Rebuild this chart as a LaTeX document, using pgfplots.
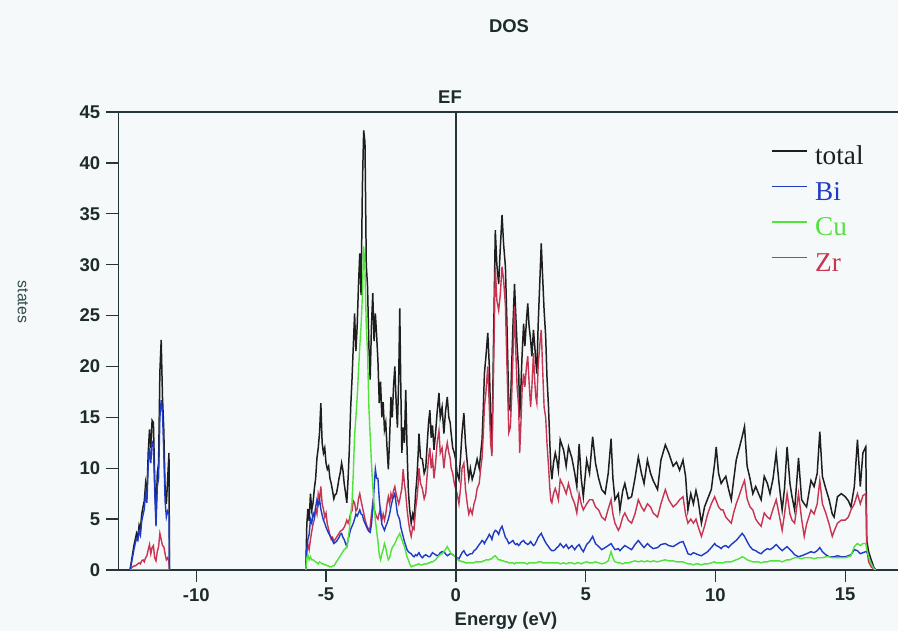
\documentclass[border=0pt]{standalone}
\usepackage{pgfplots}
\pgfplotsset{compat=1.18}
\usepackage{pgfplotstable}
\usepackage{fontspec}
\setmainfont{Liberation Sans}
\newfontfamily\legfont{Liberation Serif}
\definecolor{bg}{HTML}{F6F9F9}
\definecolor{axc}{HTML}{25353A}
\definecolor{tkc}{HTML}{1E2B2B}
\definecolor{lbc}{HTML}{2E4A4A}
\definecolor{ctot}{HTML}{1E1E1E}
\definecolor{cbi}{HTML}{1F3BC4}
\definecolor{ccu}{HTML}{52E33A}
\definecolor{czr}{HTML}{C73553}

\pgfplotstableread{
E T B C Z
-12.55 0 0 0 0
-12.50 0.8 0.6 0.0 0.2
-12.45 1.6 1.3 0.0 0.3
-12.40 2.4 2.0 0.0 0.4
-12.35 3.0 2.6 0.0 0.4
-12.30 3.6 3.1 0.0 0.5
-12.25 3.2 2.9 0.0 0.6
-12.20 4.4 3.8 0.0 0.7
-12.15 4.0 3.4 0.0 0.6
-12.10 5.5 4.8 0.0 0.9
-12.05 6.2 5.4 0.0 1.0
-12.00 6.8 6.0 0.0 0.8
-11.95 8.5 7.6 0.0 1.2
-11.90 7.5 6.6 0.0 1.4
-11.85 11.5 10.2 0.0 2.0
-11.80 13.8 12.0 0.0 2.5
-11.75 12.0 10.5 0.0 1.6
-11.70 14.7 12.6 0.0 2.2
-11.65 14.5 12.3 0.0 2.4
-11.60 9.0 7.8 0.0 1.2
-11.55 5.2 4.3 0.0 0.9
-11.50 9.5 8.2 0.0 1.8
-11.45 10.5 9.0 0.0 2.3
-11.40 19.5 15.0 0.0 3.6
-11.35 22.6 16.7 0.0 3.0
-11.30 17.0 15.5 0.0 2.4
-11.25 13.8 11.5 0.0 2.3
-11.20 8.0 6.8 0.0 1.6
-11.15 6.5 5.2 0.0 1.0
-11.10 9.0 5.8 0.0 1.2
-11.05 11.5 5.5 0.0 0.8
-11.03 0 0 0 0
-8.0 nan nan nan nan
-5.78 0 0 0 0
-5.74 4.5 2.0 1.2 1.8
-5.70 6.0 3.0 1.5 2.5
-5.65 4.8 3.5 1.0 2.0
-5.60 7.5 5.0 1.3 3.0
-5.55 5.9 4.6 1.0 3.8
-5.50 6.6 5.6 1.0 4.5
-5.45 8.0 5.2 0.9 5.0
-5.40 9.0 6.2 0.8 6.0
-5.35 11.0 6.9 0.7 5.5
-5.30 12.0 6.4 0.6 7.5
-5.25 13.5 6.9 0.8 7.0
-5.20 16.4 6.0 0.7 8.2
-5.15 12.5 5.4 0.6 6.5
-5.10 11.5 4.9 0.6 6.0
-5.05 12.0 4.6 0.5 5.2
-5.00 10.5 4.2 0.5 5.6
-4.95 9.9 3.9 0.4 4.5
-4.90 10.2 3.6 0.4 4.0
-4.85 9.0 3.4 0.3 3.4
-4.80 8.5 3.2 0.3 3.0
-4.75 7.8 2.9 0.4 3.2
-4.70 7.0 2.6 0.4 2.8
-4.65 7.4 2.7 0.6 3.0
-4.60 7.5 2.8 0.8 3.2
-4.55 8.2 3.0 1.0 3.4
-4.50 9.0 3.2 1.2 3.6
-4.45 9.6 3.5 1.4 3.8
-4.40 10.5 3.6 1.6 3.9
-4.35 9.8 3.2 1.8 4.0
-4.30 8.5 3.0 2.0 4.2
-4.25 7.6 2.6 2.1 4.5
-4.20 6.6 2.3 2.3 4.9
-4.15 9.0 3.0 3.0 4.6
-4.10 12.0 3.5 4.0 5.0
-4.05 16.0 4.0 5.5 5.6
-4.00 18.7 4.3 6.6 5.8
-3.95 22.0 4.6 9.5 6.8
-3.90 25.2 5.0 13.2 6.6
-3.85 21.5 5.5 15.0 5.8
-3.80 24.0 5.3 17.0 6.0
-3.75 28.0 5.6 19.5 7.0
-3.70 31.1 5.9 22.0 7.5
-3.65 27.0 5.5 24.0 6.8
-3.60 37.7 5.4 27.0 6.2
-3.55 43.2 4.9 31.8 5.6
-3.50 42.0 4.6 29.5 5.0
-3.45 30.0 4.3 24.0 4.5
-3.40 27.8 4.0 21.3 4.2
-3.35 22.0 3.8 16.0 3.9
-3.30 18.7 3.7 13.2 4.2
-3.25 24.0 4.5 10.5 5.5
-3.20 27.2 6.0 8.2 6.6
-3.15 22.5 8.0 6.5 6.0
-3.10 25.2 9.9 4.9 5.6
-3.05 23.0 9.0 3.8 5.2
-3.00 20.5 9.0 2.8 5.0
-2.95 16.4 7.0 1.5 5.6
-2.90 18.5 5.6 1.0 6.0
-2.85 15.0 4.5 1.6 4.9
-2.80 16.5 4.2 2.0 5.5
-2.75 13.8 3.9 2.6 4.9
-2.70 14.5 4.3 2.2 5.5
-2.65 12.0 4.6 1.5 6.5
-2.60 9.9 5.0 1.0 7.2
-2.55 13.0 5.5 1.2 6.5
-2.50 17.0 6.2 1.8 7.5
-2.45 15.0 6.8 2.2 7.0
-2.40 18.0 7.2 2.4 7.8
-2.35 20.0 7.5 2.6 8.2
-2.30 16.5 6.5 2.9 7.5
-2.25 14.0 5.5 3.2 7.0
-2.20 19.0 5.2 3.4 6.5
-2.16 25.7 4.9 3.6 6.9
-2.12 18.0 4.2 3.3 7.5
-2.08 11.5 3.8 3.0 8.0
-2.03 14.0 3.3 2.6 9.9
-1.98 12.5 2.8 2.3 8.5
-1.93 17.7 2.4 1.8 7.5
-1.88 12.0 2.0 1.3 6.0
-1.83 7.8 1.8 1.0 4.9
-1.78 6.0 1.7 0.6 4.0
-1.72 4.6 1.6 0.3 3.3
-1.66 5.5 1.4 0.4 4.2
-1.61 4.9 1.3 0.4 4.0
-1.55 7.5 1.5 0.5 6.0
-1.50 9.0 1.4 0.5 7.0
-1.45 11.5 1.6 0.6 8.5
-1.42 13.4 1.7 0.6 10.0
-1.36 11.0 1.4 0.5 8.5
-1.29 10.9 1.2 0.5 8.0
-1.22 9.5 1.4 0.6 7.0
-1.16 10.0 1.5 0.6 7.5
-1.10 12.5 1.4 0.6 9.5
-1.05 14.5 1.3 0.7 11.0
-1.00 15.7 1.3 0.7 12.0
-0.95 13.0 1.5 0.8 10.0
-0.90 14.2 1.7 0.8 11.0
-0.84 11.8 1.6 0.9 9.0
-0.78 13.5 1.5 1.0 10.5
-0.72 15.5 1.4 1.2 12.5
-0.65 17.4 1.5 1.4 13.7
-0.60 15.0 1.7 1.5 11.5
-0.53 16.0 1.8 1.6 12.0
-0.46 13.4 1.8 1.8 10.0
-0.40 15.5 1.6 2.0 11.5
-0.33 17.0 1.4 2.3 12.5
-0.27 15.0 1.5 2.0 11.5
-0.22 14.5 1.6 1.8 11.0
-0.18 13.4 1.6 1.6 10.0
-0.12 12.0 1.5 1.5 9.5
-0.06 11.5 1.4 1.4 8.5
-0.01 10.9 1.3 1.3 8.0
0.05 9.5 1.2 1.1 7.5
0.12 8.9 1.1 0.9 6.5
0.18 11.0 1.4 0.9 8.0
0.24 13.5 1.7 0.8 10.0
0.31 15.4 1.9 0.8 10.5
0.37 12.5 1.6 0.7 8.0
0.44 10.5 1.4 0.7 6.5
0.50 9.0 1.5 0.7 5.5
0.56 10.0 1.6 0.7 6.0
0.63 8.9 1.6 0.7 5.5
0.70 9.5 1.9 0.7 6.5
0.76 10.2 2.0 0.8 7.0
0.82 10.9 2.2 0.8 8.0
0.90 10.0 2.5 0.8 8.5
0.96 11.5 2.7 0.8 10.0
1.01 12.8 2.9 0.8 11.0
1.06 16.0 2.8 0.9 13.5
1.10 19.3 2.6 0.9 16.0
1.16 21.0 2.9 1.0 17.5
1.23 23.3 3.2 1.0 20.0
1.29 20.0 3.5 1.0 16.0
1.34 15.0 3.3 1.1 12.5
1.39 11.5 3.0 1.1 11.2
1.45 22.0 3.6 1.3 19.0
1.52 33.4 3.9 1.4 29.8
1.58 30.0 3.8 1.2 26.5
1.65 28.1 3.5 1.0 25.5
1.71 31.5 4.0 1.0 27.0
1.78 34.9 4.3 0.9 29.8
1.84 32.0 3.8 0.9 28.5
1.91 29.8 3.2 0.8 26.0
1.97 24.0 3.0 0.8 20.0
2.04 16.0 2.6 0.7 13.5
2.10 15.7 2.7 0.7 14.0
2.15 20.0 2.8 0.7 17.0
2.20 24.0 2.9 0.7 21.0
2.26 28.1 2.6 0.6 25.9
2.31 25.0 2.5 0.7 21.5
2.36 22.0 2.6 0.7 18.0
2.42 19.6 2.4 0.7 16.0
2.46 15.0 2.5 0.7 11.5
2.50 17.5 2.7 0.7 14.0
2.55 21.0 2.8 0.7 17.5
2.61 24.2 2.9 0.7 19.3
2.66 22.0 2.7 0.7 18.0
2.72 24.5 2.6 0.6 20.0
2.77 26.2 2.5 0.6 21.0
2.82 24.0 2.6 0.7 18.5
2.88 22.6 2.8 0.7 16.0
2.93 21.0 2.6 0.7 18.0
2.99 23.6 2.4 0.7 21.3
3.04 22.0 2.5 0.7 18.5
3.08 20.5 2.7 0.7 17.0
3.12 19.3 2.9 0.7 16.4
3.17 24.0 3.2 0.8 20.0
3.23 28.0 3.4 0.8 22.0
3.29 32.1 3.6 0.8 23.6
3.34 29.0 3.3 0.7 20.0
3.40 25.5 3.0 0.7 16.0
3.46 23.0 2.7 0.7 15.0
3.51 19.0 2.5 0.7 12.5
3.57 16.0 2.3 0.7 10.2
3.62 12.5 2.1 0.7 8.0
3.66 10.0 2.0 0.7 6.8
3.70 8.9 1.9 0.7 6.6
3.76 10.5 1.9 0.7 7.5
3.83 11.5 2.0 0.7 8.0
3.89 10.8 2.2 0.7 7.5
3.95 9.8 2.3 0.7 6.9
4.02 12.8 2.6 0.6 8.9
4.15 11.8 2.2 0.7 8.2
4.25 10.2 2.5 0.6 7.5
4.34 12.1 2.1 0.7 8.5
4.47 11.0 2.4 0.7 7.2
4.58 9.5 2.0 0.6 6.5
4.66 8.2 2.3 0.7 5.6
4.75 12.4 2.5 0.7 7.5
4.83 9.0 2.1 0.6 6.5
4.91 7.2 1.8 0.7 5.9
5.04 10.8 2.5 0.8 6.5
5.15 9.5 2.8 0.7 6.9
5.27 13.1 3.3 0.7 6.9
5.38 10.5 2.6 0.8 6.2
5.50 9.0 2.3 0.7 5.9
5.62 7.9 2.0 0.6 5.2
5.75 7.5 2.2 0.7 4.9
5.87 9.5 2.4 0.9 6.0
5.98 12.9 2.6 1.8 6.9
6.05 9.0 2.3 1.2 5.5
6.13 6.9 2.0 0.8 4.6
6.26 7.5 2.1 0.7 3.9
6.32 5.9 1.9 0.7 4.2
6.43 7.8 2.2 0.6 5.2
6.51 8.5 2.4 0.7 5.6
6.64 7.0 2.2 0.7 4.9
6.77 7.2 2.0 0.8 4.6
6.90 9.0 2.5 0.9 5.5
7.03 11.1 2.9 0.8 6.9
7.15 9.5 2.5 0.9 6.2
7.25 8.5 2.2 0.8 5.8
7.38 10.8 2.6 0.9 6.5
7.50 9.5 2.3 0.8 6.2
7.60 8.8 2.1 0.9 5.6
7.77 7.9 2.2 0.8 5.2
7.90 10.8 2.5 0.9 6.5
8.07 12.3 2.6 1.0 7.9
8.20 11.5 2.4 0.9 6.9
8.37 10.2 2.3 0.9 6.2
8.50 10.6 2.5 0.8 6.5
8.62 9.8 2.7 0.8 6.9
8.75 10.8 2.8 0.8 7.2
8.85 9.2 2.2 0.7 5.5
8.94 5.9 1.6 0.6 4.6
9.05 7.5 1.5 0.6 5.0
9.15 6.5 1.7 0.5 4.6
9.25 7.8 1.6 0.6 5.0
9.33 6.9 1.5 0.6 4.3
9.46 4.6 1.4 0.5 3.3
9.58 6.2 1.6 0.6 4.3
9.70 7.0 1.8 0.6 5.5
9.84 7.9 2.2 0.7 6.5
9.97 10.5 2.6 0.8 7.2
10.03 12.1 2.4 0.7 6.8
10.12 9.5 2.3 0.7 6.2
10.22 8.5 2.1 0.7 5.9
10.29 8.8 2.3 0.7 5.9
10.40 9.2 2.4 0.8 5.2
10.50 8.0 2.2 0.8 4.9
10.61 6.9 2.5 0.8 4.6
10.70 8.8 2.7 0.9 5.6
10.80 10.8 2.9 1.0 6.5
10.90 11.8 3.2 1.1 7.2
11.03 13.1 3.6 1.3 8.2
11.12 14.1 3.3 1.2 8.8
11.22 10.2 2.8 1.0 7.0
11.33 9.0 2.3 0.9 6.2
11.44 7.5 2.0 0.8 5.9
11.55 8.2 1.9 0.8 5.0
11.66 7.5 1.7 0.8 4.6
11.76 6.9 1.6 0.7 4.3
11.88 9.2 1.9 0.8 5.6
12.00 8.5 2.1 0.8 5.2
12.10 7.5 2.0 0.9 5.0
12.22 9.0 2.2 0.9 6.0
12.34 11.5 2.5 0.9 6.9
12.45 8.5 2.2 0.9 5.5
12.57 5.9 1.9 0.8 3.9
12.66 8.0 2.1 0.9 5.5
12.76 12.1 2.3 1.0 7.5
12.87 8.5 2.0 1.0 5.5
12.95 7.2 1.8 1.1 4.9
13.05 5.9 1.5 1.2 4.6
13.20 11.0 1.3 1.2 7.5
13.32 6.9 1.4 1.1 5.0
13.42 6.5 1.5 1.2 3.3
13.51 6.2 1.6 1.2 4.5
13.68 8.8 1.8 1.2 5.9
13.80 8.2 1.7 1.1 5.5
13.92 9.5 1.9 1.2 6.5
14.02 13.6 2.2 1.2 8.8
14.12 9.2 1.8 1.2 6.5
14.25 8.0 1.5 1.3 5.6
14.38 6.9 1.3 1.3 4.5
14.50 5.5 1.3 1.2 3.3
14.57 5.2 1.3 1.2 3.8
14.70 7.2 1.4 1.2 4.6
14.85 7.5 1.3 1.2 4.9
15.00 7.2 1.3 1.2 4.9
15.12 6.8 1.4 1.3 5.2
15.22 6.2 1.5 1.4 5.9
15.35 8.2 2.0 2.3 6.5
15.47 12.8 1.9 2.6 7.5
15.58 8.2 1.6 2.4 6.5
15.68 11.5 1.7 2.6 7.3
15.79 12.1 1.8 2.6 7.5
15.83 2.9 1.8 2.0 2.3
15.90 1.8 1.2 1.3 0.8
16.00 1.0 0.7 0.6 0.3
16.11 0.2 0.1 0.1 0.1
16.18 0 0 0 0
}\dostab

\begin{document}
\begin{tikzpicture}
\fill[bg] (0,0) rectangle (17.96,12.62);
\begin{axis}[
  at={(2.367cm,1.22cm)}, anchor=south west,
  scale only axis, width=15.68cm, height=9.16cm,
  xmin=-13, xmax=17.2, ymin=0, ymax=45,
  axis line style={axc, line width=0.8pt},
  xtick={-10,-5,0,5,10,15}, ytick={0,5,...,45},
  tick align=outside, xtick pos=bottom, ytick pos=left,
  major tick length=0.24cm,
  tick style={axc, line width=0.8pt},
  tick label style={font=\bfseries\fontsize{10.5}{12}\selectfont, text=tkc},
  /pgf/number format/assume math mode=true,
  unbounded coords=jump,
  legend cell align=left,
  legend image code/.code={\draw[#1, line width=1pt] (0pt,4pt) -- (19.8pt,4pt);},
  legend style={at={(0.826,0.935)}, anchor=north west, draw=none, fill=none,
    font=\legfont\fontsize{15.5}{18}\selectfont, row sep=6.2pt, column sep=4pt,
    nodes={inner sep=0pt, text height=11pt, text depth=3pt}},
]
\addlegendimage{ctot}\addlegendentry{\textcolor{ctot}{total}}
\addlegendimage{cbi}\addlegendentry{\textcolor{cbi}{Bi}}
\addlegendimage{ccu}\addlegendentry{\textcolor{ccu}{Cu}}
\addlegendimage{czr}\addlegendentry{\textcolor{czr}{Zr}}
\addplot[ctot, line width=0.85pt, forget plot] table[x=E, y=T] {\dostab};
\addplot[czr, line width=0.8pt, forget plot] table[x=E, y=Z] {\dostab};
\addplot[cbi, line width=0.8pt, forget plot] table[x=E, y=B] {\dostab};
\addplot[ccu, line width=0.8pt, forget plot] table[x=E, y=C] {\dostab};
\draw[axc, line width=0.8pt] (axis cs:0,0) -- (axis cs:0,45);
\end{axis}
\node[font=\bfseries\fontsize{10.5}{12}\selectfont, text=tkc] at (10.18,12.10) {DOS};
\node[font=\bfseries\fontsize{10.5}{12}\selectfont, text=tkc] at (9.0,10.68) {EF};
\node[rotate=-90, font=\fontsize{9}{11}\selectfont, text=lbc] at (0.46,6.58) {states};
\node[anchor=north, font=\bfseries\fontsize{10.5}{12}\selectfont, text=tkc] at (10.12,0.50) {Energy (eV)};
\pgfresetboundingbox
\useasboundingbox (0,0) rectangle (17.96,12.62);
\end{tikzpicture}
\end{document}
